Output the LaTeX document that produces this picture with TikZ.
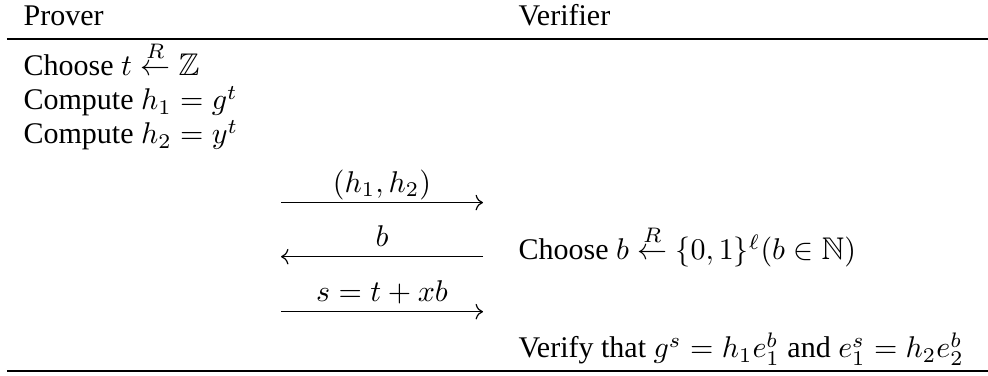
\documentclass[tikz,border=0pt]{standalone}
\usepackage{amsmath}
\usepackage{amssymb}
\usepackage{fontspec}
\setmainfont{Liberation Serif}
\DeclareMathSizes{10}{10.45}{7.3}{5.2}
\usetikzlibrary{arrows.meta}

\begin{document}
\begin{tikzpicture}[
  >=To, x=1pt, y=1pt, line width=0.4pt,
  cell/.style={anchor=base west, inner sep=0pt},
  msg/.style={anchor=base, inner sep=0pt, yshift=3.5pt},
  tabrule/.style={line width=0.65pt},
]
\useasboundingbox (0,0) rectangle (329.33,125.33);
% column heads
\node[cell] (P) at (7.67,116.67) {Prover};
\node[cell] (V) at (172.67,116.67) {Verifier};
\coordinate (tl) at (2.33,112.33);
\coordinate (tr) at (329.33,112.33);
\draw[tabrule] (tl) -- (tr);
% prover side
\node[cell] (c1) at (7.67,100) {Choose $t \stackrel{R}{\leftarrow} \mathbb{Z}$};
\node[cell] (c2) at (7.67,88.67) {Compute $h_1 = g^t$};
\node[cell] (c3) at (7.67,77.33) {Compute $h_2 = y^t$};
% messages
\coordinate (p1) at (93.67,57.8);  \coordinate (v1) at (161,57.8);
\coordinate (p2) at (93.67,39.77); \coordinate (v2) at (161,39.77);
\coordinate (p3) at (93.67,21.43); \coordinate (v3) at (161,21.43);
\draw[->] (p1) -- node[msg] {$(h_1, h_2)$} (v1);
\draw[->] (v2) -- node[msg] {$b$} (p2);
\draw[->] (p3) -- node[msg] {$s = t + xb$} (v3);
% verifier side
\node[cell] (v4) at (172.67,38.67) {Choose $b \stackrel{R}{\leftarrow} \{0,1\}^\ell(b \in \mathbb{N})$};
\node[cell] (v5) at (172.67,6) {Verify that $g^s = h_1e_1^b$ and $e_1^s = h_2e_2^b$};
\coordinate (bl) at (2.33,1.67);
\coordinate (br) at (329.33,1.67);
\draw[tabrule] (bl) -- (br);
\end{tikzpicture}
\end{document}
